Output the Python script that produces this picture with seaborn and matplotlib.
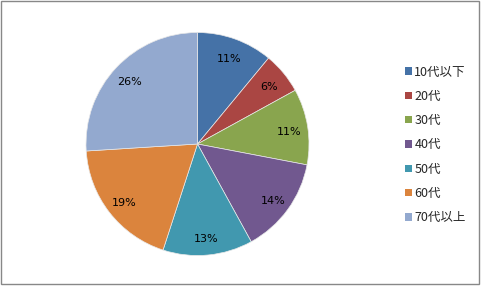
import matplotlib
matplotlib.use("Agg")
import matplotlib.pyplot as plt
from matplotlib.patches import Rectangle, Patch
from matplotlib.transforms import offset_copy
import seaborn as sns

categories = ["10代以下", "20代", "30代", "40代", "50代", "60代", "70代以上"]
values = [11, 6, 11, 14, 13, 19, 26]
colors = ["#4572A7", "#AA4643", "#89A54E", "#71588F", "#4198AF", "#DB843D", "#93A9CF"]

sns.set_style("white")
plt.rcParams['font.family'] = ['Noto Sans CJK JP', 'DejaVu Sans']
palette = sns.color_palette(colors)

W, H = 484, 290
fig = plt.figure(figsize=(W / 100, H / 100), dpi=100)
fig.patch.set_facecolor("white")

# border
fig.add_artist(Rectangle((0.5 / W, 6 / H), 478 / W, 283.5 / H, transform=fig.transFigure,
                         fill=False, edgecolor="#888888", linewidth=1.0))

cx, cy, r = 197.5, 144, 111.5
ax = fig.add_axes([(cx - r) / W, (H - cy - r) / H, 2 * r / W, 2 * r / H])
wedges, texts, autotexts = ax.pie(
    values, colors=palette, startangle=90, counterclock=False,
    autopct=lambda p: f"{p:.0f}%", pctdistance=0.835,
    wedgeprops=dict(edgecolor="#e8e8e8", linewidth=0.5),
    textprops=dict(fontsize=8, color="black", family=['DejaVu Sans']))
for t in autotexts:
    t.set_transform(offset_copy(t.get_transform(), fig=fig, x=0, y=-1.6, units="points"))
ax.set_xlim(-1, 1)
ax.set_ylim(-1, 1)
ax.axis("off")

handles = [Patch(facecolor=c, edgecolor="none") for c in palette]
leg = fig.legend(handles, categories, loc="upper left",
                 bbox_to_anchor=(405 / W, 1 - 65.5 / H), frameon=False,
                 prop=dict(size=9, family=['Noto Sans CJK JP', 'DejaVu Sans']),
                 handlelength=0.55, handleheight=0.55, handletextpad=0.2,
                 labelspacing=0.905, borderaxespad=0, borderpad=0)

fig.savefig("out.png", dpi=100)
